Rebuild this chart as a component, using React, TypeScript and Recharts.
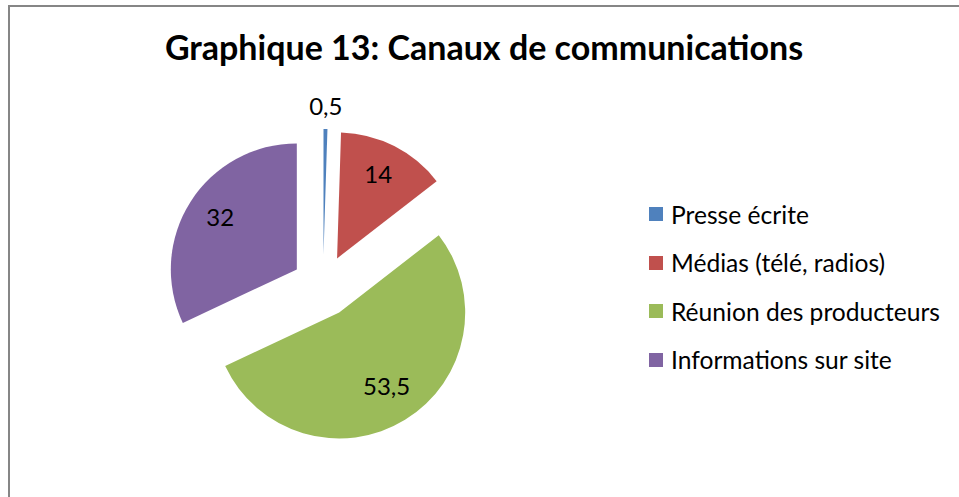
import { PieChart, Pie, Cell, Legend, Sector } from "recharts";

const categories = ["Presse écrite", "Médias (télé, radios)", "Réunion des producteurs", "Informations sur site"];
const values = [0.5, 14, 53.5, 32];
const colors = ["#4F81BD", "#C0504D", "#9BBB59", "#8064A2"];

const data = categories.map((name, i) => ({ name, value: values[i] }));

const RAD = Math.PI / 180;
const EXPLODE = 31;
const FONT = "Lato, 'Open Sans', sans-serif";

const fmt = (v: number) => String(v).replace(".", ",");

// each slice pushed out along its own mid angle
function ExplodedSlice(props: any) {
  const { cx, cy, midAngle } = props;
  const dx = EXPLODE * Math.cos(midAngle * RAD);
  const dy = -EXPLODE * Math.sin(midAngle * RAD);
  return <Sector {...props} cx={cx + dx} cy={cy + dy} stroke="none" />;
}

function SliceLabel(props: any) {
  const { cx, cy, midAngle, outerRadius, value } = props;
  const cos = Math.cos(midAngle * RAD);
  const sin = -Math.sin(midAngle * RAD);
  const ox = cx + EXPLODE * cos;
  const oy = cy + EXPLODE * sin;
  const r = value < 2 ? outerRadius + 20 : outerRadius * 0.72;
  return (
    <text
      x={ox + r * cos}
      y={oy + r * sin - 4}
      textAnchor="middle"
      dominantBaseline="central"
      fontFamily={FONT}
      fontSize={24}
      fill="#000"
    >
      {fmt(value)}
    </text>
  );
}

function LegendList({ payload }: any) {
  const items = [...(payload || [])].sort(
    (a: any, b: any) => categories.indexOf(a.value) - categories.indexOf(b.value)
  );
  return (
    <div style={{ fontFamily: FONT, fontSize: 24.6, color: "#000" }}>
      {items.map((p: any, i: number) => (
        <div key={i} style={{ display: "flex", alignItems: "center", height: 48.5 }}>
          <span style={{ width: 14, height: 14, background: p.color, marginRight: 8, display: "inline-block" }} />
          <span>{p.value}</span>
        </div>
      ))}
    </div>
  );
}

export default function App() {
  return (
    <div style={{ position: "absolute", left: 0, top: 0, width: 959, height: 497, background: "#fff" }}>
      <div
        style={{
          position: "absolute",
          left: 8,
          top: 5,
          width: 951,
          height: 492,
          borderTop: "2px solid #868686",
          borderLeft: "2px solid #868686",
        }}
      />
      <div
        style={{
          position: "absolute",
          left: 0,
          top: 26,
          width: 968,
          textAlign: "center",
          fontFamily: FONT,
          fontWeight: 700,
          fontSize: 34,
          color: "#000",
        }}
      >
        Graphique 13: Canaux de communications
      </div>
      <div style={{ position: "absolute", left: 0, top: 0 }}>
        <PieChart width={959} height={497} margin={{ top: 0, right: 0, bottom: 0, left: 0 }}>
          <Pie
            data={data}
            dataKey="value"
            nameKey="name"
            cx={323}
            cy={286}
            outerRadius={126}
            startAngle={90}
            endAngle={-270}
            shape={ExplodedSlice}
            label={SliceLabel}
            labelLine={false}
            isAnimationActive={false}
          >
            {data.map((d, i) => (
              <Cell key={d.name} fill={colors[i]} />
            ))}
          </Pie>
          <Legend
            layout="vertical"
            align="right"
            verticalAlign="top"
            content={LegendList}
            wrapperStyle={{ left: 649, top: 190, width: 310 }}
          />
        </PieChart>
      </div>
    </div>
  );
}
